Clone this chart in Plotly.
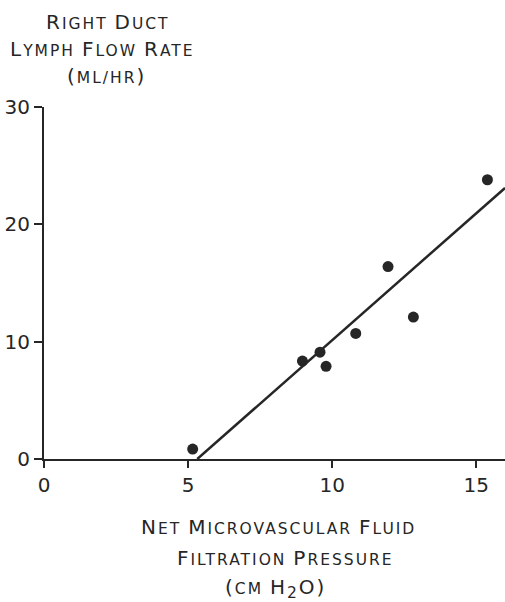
import plotly.graph_objects as go

# Data
pressure = [5.16, 8.97, 9.58, 9.79, 10.82, 11.94, 12.82, 15.39]
flow = [0.85, 8.35, 9.1, 7.9, 10.7, 16.4, 12.1, 23.8]
fit_x = [5.32, 16.0]
fit_y = [0.0, 23.1]
x_ticks = [0, 5, 10, 15]
y_ticks = [0, 10, 20, 30]

ink = "#262626"
font = "DejaVu Sans, sans-serif"

fig = go.Figure()
fig.add_trace(go.Scatter(x=fit_x, y=fit_y, mode="lines",
                         line=dict(color=ink, width=2.5), showlegend=False))
fig.add_trace(go.Scatter(x=pressure, y=flow, mode="markers",
                         marker=dict(color=ink, size=11), showlegend=False))

big = 20
small = 15.5
ls = "letter-spacing:2px"

def s(t):
    return f"<span style='font-size:{small}px;{ls}'>{t}</span>"

def b(t):
    return f"<span style='font-size:{big}px;{ls}'>{t}</span>"

y_title = [
    b("R") + s("IGHT ") + b("D") + s("UCT"),
    b("L") + s("YMPH ") + b("F") + s("LOW ") + b("R") + s("ATE"),
    b("(") + s("ML/HR") + b(")"),
]
x_title = [
    b("N") + s("ET ") + b("M") + s("ICROVASCULAR ") + b("F") + s("LUID"),
    b("F") + s("ILTRATION ") + b("P") + s("RESSURE"),
    b("(") + s("CM ") + b("H") + "<sub>" + s("2") + "</sub>" + b("O)"),
]

annotations = []
for i, t in enumerate(y_title):
    annotations.append(dict(text=t, x=[108, 102, 106][i], y=602 - [22, 49, 76][i],
                            xref="paper", yref="paper",
                            showarrow=False, xanchor="center", yanchor="middle"))
for i, t in enumerate(x_title):
    annotations.append(dict(text=t, x=[278, 285, 275][i], y=602 - [527, 558, 588][i],
                            xref="paper", yref="paper",
                            showarrow=False, xanchor="center", yanchor="middle"))

# convert pixel positions to paper coords
L, R, T, B = 43.5, 0, 107, 143
pw = 505 - L - R
ph = 602 - T - B
for a in annotations:
    a["x"] = (a["x"] - L) / pw
    a["y"] = (a["y"] - B) / ph
    a["font"] = dict(family=font, size=big, color=ink)

fig.update_layout(
    width=505, height=602,
    margin=dict(l=L, r=R, t=T, b=B),
    paper_bgcolor="white", plot_bgcolor="white",
    font=dict(family=font, color=ink),
    annotations=annotations,
    xaxis=dict(range=[0, 16], tickvals=x_ticks, showgrid=False, zeroline=False,
               showline=True, linecolor=ink, linewidth=2,
               ticks="outside", ticklen=7, tickwidth=2, tickcolor=ink,
               tickfont=dict(size=20, color=ink, family=font)),
    yaxis=dict(range=[0, 30], tickvals=y_ticks, showgrid=False, zeroline=False,
               showline=True, linecolor=ink, linewidth=2,
               ticks="outside", ticklen=8, tickwidth=2, tickcolor=ink,
               tickfont=dict(size=20, color=ink, family=font)),
)

fig.write_html("out.html")
